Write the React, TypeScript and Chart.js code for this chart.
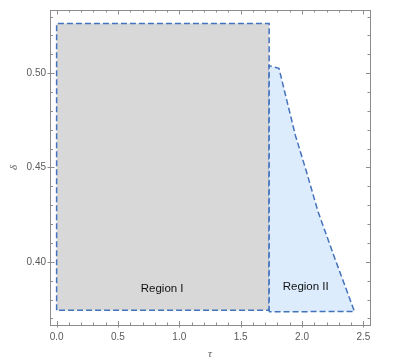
import React, { useEffect, useRef } from "react";
import { Chart, registerables } from "chart.js";

Chart.register(...registerables);

// ---- data ----
const regionIX = [0, 0, 1.732, 1.732, 0];
const regionIY = [0.3743, 0.5263, 0.5263, 0.3743, 0.3743];

const regionIIX = [1.732, 1.732, 1.812, 1.946, 2.037, 2.13, 2.26, 2.427, 1.732];
const regionIIY = [0.3735, 0.504, 0.5026, 0.467, 0.4476, 0.4267, 0.4031, 0.3737, 0.3735];

const xTicks = [0, 0.5, 1.0, 1.5, 2.0, 2.5];
const xTickLabels = ["0.0", "0.5", "1.0", "1.5", "2.0", "2.5"];
const xMinorTicks = [0.1, 0.2, 0.3, 0.4, 0.6, 0.7, 0.8, 0.9, 1.1, 1.2, 1.3, 1.4, 1.6, 1.7, 1.8, 1.9, 2.1, 2.2, 2.3, 2.4];
const yTicks = [0.4, 0.45, 0.5];
const yTickLabels = ["0.40", "0.45", "0.50"];
const yMinorTicks = [0.37, 0.38, 0.39, 0.41, 0.42, 0.43, 0.44, 0.46, 0.47, 0.48, 0.49, 0.51, 0.52, 0.53];

const regionLabels = ["Region I", "Region II"];
const regionLabelX = [0.86, 2.03];
const regionLabelY = [0.3859, 0.3869];

const xRange = [-0.054, 2.554];
const yRange = [0.3665, 0.5335];

const FRAME = "#8c8c8c";
const LINE = "rgb(68,114,188)";

const framePlugin = {
  id: "mmaFrame",
  afterDraw(chart: any) {
    const { ctx, chartArea, scales } = chart;
    const { left, right, top, bottom } = chartArea;
    const xs = scales.x;
    const ys = scales.y;
    ctx.save();
    // region labels
    ctx.fillStyle = "#111";
    ctx.font = "11.5px 'Liberation Sans', Arial, sans-serif";
    ctx.textAlign = "center";
    ctx.textBaseline = "middle";
    regionLabels.forEach((t, i) => {
      ctx.fillText(t, xs.getPixelForValue(regionLabelX[i]), ys.getPixelForValue(regionLabelY[i]));
    });
    // frame
    ctx.strokeStyle = FRAME;
    ctx.lineWidth = 1;
    ctx.strokeRect(left + 0.5, top + 0.5, right - left, bottom - top);
    ctx.beginPath();
    const line = (x1: number, y1: number, x2: number, y2: number) => {
      ctx.moveTo(x1, y1);
      ctx.lineTo(x2, y2);
    };
    xTicks.forEach((v) => {
      const p = Math.round(xs.getPixelForValue(v)) + 0.5;
      line(p, bottom + 2.5, p, bottom - 4);
      line(p, top, p, top + 4.5);
    });
    xMinorTicks.forEach((v) => {
      const p = Math.round(xs.getPixelForValue(v)) + 0.5;
      line(p, bottom, p, bottom - 2.5);
      line(p, top, p, top + 2.5);
    });
    yTicks.forEach((v) => {
      const p = Math.round(ys.getPixelForValue(v)) + 0.5;
      line(left - 2.5, p, left + 4.5, p);
      line(right + 0.5, p, right - 4, p);
    });
    yMinorTicks.forEach((v) => {
      const p = Math.round(ys.getPixelForValue(v)) + 0.5;
      line(left, p, left + 3, p);
      line(right + 0.5, p, right - 2.5, p);
    });
    ctx.stroke();
    ctx.restore();
  },
};

export default function App() {
  const ref = useRef<HTMLCanvasElement | null>(null);
  useEffect(() => {
    if (!ref.current) return;
    const font = { family: "'Liberation Sans', Arial, sans-serif", size: 10 };
    const chart = new Chart(ref.current, {
      type: "scatter",
      data: {
        datasets: [
          {
            data: regionIIX.map((x, i) => ({ x, y: regionIIY[i] })),
            showLine: true,
            fill: "shape",
            backgroundColor: "#dcecfc",
            borderColor: LINE,
            borderWidth: 1.5,
            borderDash: [6, 3],
            pointRadius: 0,
            tension: 0,
          },
          {
            data: regionIX.map((x, i) => ({ x, y: regionIY[i] })),
            showLine: true,
            fill: "shape",
            backgroundColor: "#d8d8d8",
            borderColor: LINE,
            borderWidth: 1.5,
            borderDash: [6, 3],
            pointRadius: 0,
            tension: 0,
          },
        ],
      },
      options: {
        animation: false,
        responsive: false,
        layout: { padding: { top: 6, right: 23, left: 0, bottom: 0 } },
        plugins: { legend: { display: false }, tooltip: { enabled: false } },
        scales: {
          x: {
            type: "linear",
            min: xRange[0],
            max: xRange[1],
            grid: { display: false, drawTicks: false },
            border: { display: false },
            afterBuildTicks: (s: any) => {
              s.ticks = xTicks.map((v) => ({ value: v }));
            },
            afterFit: (s: any) => {
              s.height = 38;
            },
            ticks: {
              padding: 6,
              color: "#5a5a5a",
              font,
              maxRotation: 0,
              autoSkip: false,
              callback: (_v: any, i: number) => xTickLabels[i],
            },
            title: {
              display: true,
              text: "τ",
              color: "#5a5a5a",
              font: { family: "'Liberation Serif', serif", size: 11, style: "italic" },
              padding: { top: 0, bottom: 2 },
            },
          },
          y: {
            type: "linear",
            min: yRange[0],
            max: yRange[1],
            grid: { display: false, drawTicks: false },
            border: { display: false },
            afterBuildTicks: (s: any) => {
              s.ticks = yTicks.map((v) => ({ value: v }));
            },
            afterFit: (s: any) => {
              s.width = 50;
            },
            ticks: {
              padding: 4,
              color: "#5a5a5a",
              font,
              autoSkip: false,
              callback: (_v: any, i: number) => yTickLabels[i],
            },
            title: {
              display: true,
              text: "δ",
              color: "#5a5a5a",
              font: { family: "'Liberation Serif', serif", size: 11, style: "italic" },
              padding: { top: 8, bottom: 0 },
            },
          },
        },
      },
      plugins: [framePlugin],
    });
    return () => chart.destroy();
  }, []);
  return (
    <div style={{ position: "fixed", left: 0, top: 0, width: 393, height: 363, background: "#fff" }}>
      <canvas ref={ref} width={393} height={363} />
    </div>
  );
}
